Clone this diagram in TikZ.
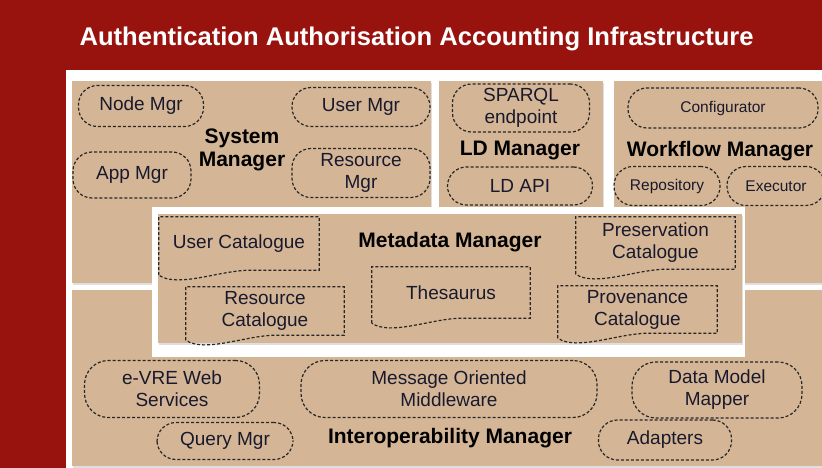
\documentclass[tikz,border=0pt]{standalone}
\usepackage{fontspec}
\setmainfont{Liberation Sans}
\usetikzlibrary{calc,shadows}
\definecolor{aaired}{RGB}{152,18,14}
\definecolor{mgrtan}{RGB}{212,182,150}
\definecolor{inktext}{RGB}{25,25,45}
\tikzset{
  mgrbox/.style={rectangle, fill=mgrtan, draw=none, anchor=north west, inner sep=0pt,
    drop shadow={shadow xshift=1pt, shadow yshift=-1.5pt, opacity=0.25}},
  comp/.style={rectangle, rounded corners=19pt, draw=black!85, line width=1.2pt,
    dash pattern=on 3pt off 2pt, align=center, inner sep=0pt, text=inktext,
    font=\fontsize{19}{22}\selectfont},
  smallcomp/.style={comp, font=\fontsize{15.5}{18}\selectfont},
  catalogue/.style={rectangle, draw=none, align=center, inner sep=0pt, text=inktext,
    font=\fontsize{19}{22}\selectfont},
  catline/.style={draw=black!85, line width=1.2pt, dash pattern=on 3pt off 2pt},
  mgrlabel/.style={align=center, text=black, yshift=-2pt,
    font=\fontsize{21}{23}\selectfont\bfseries}
}

\begin{document}
\begin{tikzpicture}[x=1pt, y=-1pt]

\useasboundingbox (0,0) rectangle (822,468);
\fill[aaired] (0,0) rectangle (822,468);
\fill[white] (66,70) rectangle (830,475);

% Title
\node[anchor=west, text=white, font=\fontsize{25.6}{28}\selectfont\bfseries] (title) at (76,39)
  {Authentication Authorisation Accounting Infrastructure};

% Manager boxes
\node[mgrbox, minimum width=359pt, minimum height=202pt] (sysbox) at (72,81) {};
\node[mgrbox, minimum width=164pt, minimum height=126pt] (ldbox) at (439,81) {};
\node[mgrbox, minimum width=215pt, minimum height=202pt] (wfbox) at (614,81) {};
\node[mgrbox, minimum width=760pt, minimum height=176pt] (intbox) at (72,290) {};
\node[rectangle, fill=white, anchor=north west, inner sep=0pt,
  minimum width=593pt, minimum height=150pt] (metaback) at (152,207) {};
\node[mgrbox, minimum width=584pt, minimum height=129pt] (metabox) at (158,214) {};

% System Manager
\node[comp, minimum width=125pt, minimum height=41pt] (nodemgr) at (141,106) {Node Mgr};
\node[comp, minimum width=138pt, minimum height=39pt] (usermgr) at (361,107) {User Mgr};
\node[comp, minimum width=118pt, minimum height=46pt] (appmgr) at (132,175) {App Mgr};
\node[comp, minimum width=138pt, minimum height=49pt] (resmgr) at (361,173) {Resource\\Mgr};
\node[mgrlabel] (syslabel) at (242,148) {System\\Manager};

% LD Manager
\node[comp, minimum width=137pt, minimum height=48pt] (sparql) at (521,108) {SPARQL\\endpoint};
\node[mgrlabel] (ldlabel) at (520,149) {LD Manager};
\node[comp, minimum width=145pt, minimum height=38pt] (ldapi) at (520,186) {LD API};

% Workflow Manager
\node[smallcomp, minimum width=190pt, minimum height=40pt] (config) at (723,108) {Configurator};
\node[mgrlabel] (wflabel) at (720,149) {Workflow Manager};
\node[smallcomp, minimum width=106pt, minimum height=39pt] (repo) at (667,186) {Repository};
\node[smallcomp, minimum width=98pt, minimum height=39pt] (executor) at (776,186) {Executor};

% Metadata Manager
\node[mgrlabel] (metalabel) at (450,240) {Metadata Manager};
\node[catalogue, minimum width=160pt, minimum height=53pt] (usercat) at (239,243.5) {User Catalogue};
\node[catalogue, minimum width=158pt, minimum height=48pt] (rescat) at (265,311) {Resource\\Catalogue};
\node[catalogue, minimum width=158pt, minimum height=51pt] (thes) at (451,292.5) {Thesaurus};
\node[catalogue, minimum width=159pt, minimum height=52pt] (prescat) at (655.5,243) {Preservation\\Catalogue};
\node[catalogue, minimum width=159pt, minimum height=47pt] (provcat) at (637.5,309.5) {Provenance\\Catalogue};

% wavy document outlines
\foreach \docn in {usercat,rescat,thes,prescat,provcat}
  \draw[catline] ($(\docn.south west)+(0,-5pt)$) -- (\docn.north west) -- (\docn.north east)
    -- (\docn.south east) -- ($(\docn.south west)!0.57!(\docn.south east)$)
    .. controls ($(\docn.south west)!0.38!(\docn.south east)$)
    and ($(\docn.south west)!0.12!(\docn.south east)+(0,-18pt)$) .. ($(\docn.south west)+(0,-5pt)$);

% Interoperability Manager
\node[comp, rounded corners=24pt, minimum width=175pt, minimum height=57pt] (evre) at (172,389) {e-VRE Web\\Services};
\node[comp, rounded corners=24pt, minimum width=296pt, minimum height=57pt] (mom) at (449,389) {Message Oriented\\Middleware};
\node[comp, rounded corners=24pt, minimum width=170pt, minimum height=56pt] (dmm) at (717,390) {Data Model\\Mapper};
\node[comp, minimum width=136pt, minimum height=37pt] (querymgr) at (225,441) {Query Mgr};
\node[comp, minimum width=133pt, minimum height=40pt] (adapters) at (665,440) {Adapters};
\node[mgrlabel] (intlabel) at (450,436) {Interoperability Manager};

\end{tikzpicture}
\end{document}
